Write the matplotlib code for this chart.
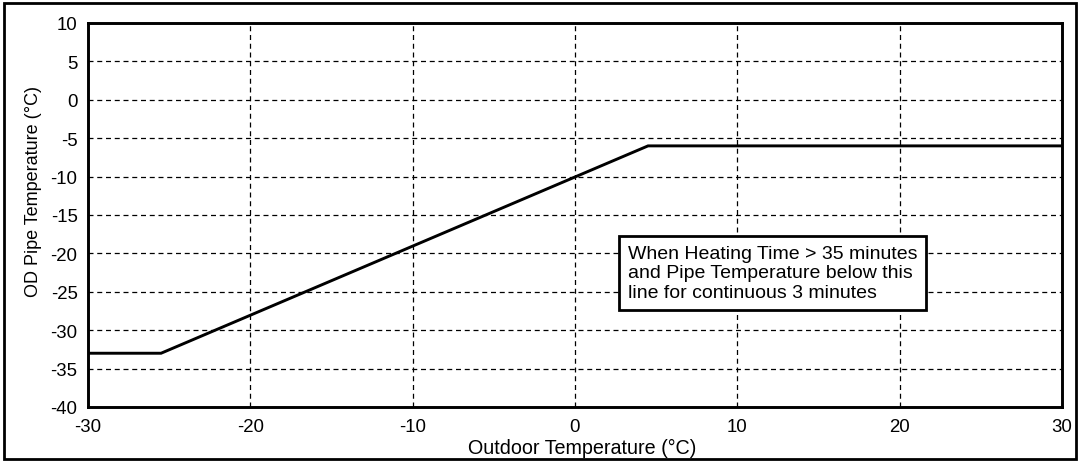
import matplotlib
matplotlib.use('Agg')
import matplotlib.pyplot as plt
from matplotlib.patches import Rectangle

plt.rcParams['font.family'] = ['Liberation Sans', 'DejaVu Sans']
plt.rcParams['axes.unicode_minus'] = False

# Defrost entry curve: outdoor temperature vs. OD pipe temperature
outdoor_temp = [-30, -25.5, 4.5, 30]
pipe_temp = [-33, -33, -6, -6]

x_ticks = [-30, -20, -10, 0, 10, 20, 30]
y_ticks = [10, 5, 0, -5, -10, -15, -20, -25, -30, -35, -40]

note = ("When Heating Time > 35 minutes\n"
        "and Pipe Temperature below this\n"
        "line for continuous 3 minutes")

fig = plt.figure(figsize=(10.8, 4.64), dpi=100)
ax = fig.add_axes([88 / 1080, 1 - 408 / 464, (1062 - 88) / 1080, (408 - 24) / 464])

ax.plot(outdoor_temp, pipe_temp, color='black', lw=2.1, solid_joinstyle='miter')

ax.set_xlim(-30, 30)
ax.set_ylim(-40, 10)
ax.set_xticks(x_ticks)
ax.set_yticks(y_ticks)
ax.tick_params(length=0, labelsize=13.4)
ax.tick_params(axis='x', pad=8)
ax.tick_params(axis='y', pad=7.5)
ax.grid(True, color='black', ls=(0, (4, 3)), lw=0.9)
for s in ax.spines.values():
    s.set_linewidth(2.1)

ax.set_xlabel('Outdoor Temperature (°C)', fontsize=14.2)
ax.set_ylabel('OD Pipe Temperature (°C)', fontsize=13)
ax.xaxis.set_label_coords(0.507, -0.080)
ax.yaxis.set_label_coords(-0.047, 0.5625)

ax.text(3.27, -22.55, note, fontsize=14, va='center', ha='left', linespacing=1.2,
        bbox=dict(boxstyle='square,pad=0.45', fc='white', ec='black', lw=2))

# frame around the whole figure
fig.patches.append(Rectangle((4 / 1080, 4 / 464), 1 - 8 / 1080, 1 - 8 / 464,
                             transform=fig.transFigure, fill=False, ec='black', lw=2))

fig.savefig('out.png', dpi=100, facecolor='white')
